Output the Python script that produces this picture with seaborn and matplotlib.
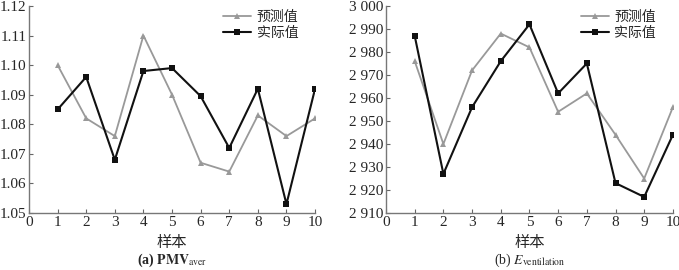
import numpy as np
import pandas as pd
import matplotlib
matplotlib.use("Agg")
import matplotlib.pyplot as plt
import seaborn as sns

# Sample indices
samples = [1, 2, 3, 4, 5, 6, 7, 8, 9, 10]

# (a) average PMV
pmv_pred = [1.100, 1.082, 1.076, 1.110, 1.090, 1.067, 1.064, 1.083, 1.076, 1.082]
pmv_actual = [1.085, 1.096, 1.068, 1.098, 1.099, 1.0895, 1.072, 1.092, 1.053, 1.092]

# (b) ventilation energy
vent_pred = [2976, 2940, 2972, 2988, 2982, 2954, 2962, 2944, 2925, 2956]
vent_actual = [2987, 2927, 2956, 2976, 2992, 2962, 2975, 2923, 2917, 2944]

series_names = ["预测值", "实际值"]
pmv_ticks = [1.05, 1.06, 1.07, 1.08, 1.09, 1.10, 1.11, 1.12]
vent_ticks = [2910, 2920, 2930, 2940, 2950, 2960, 2970, 2980, 2990, 3000]
x_ticks = [0, 1, 2, 3, 4, 5, 6, 7, 8, 9, 10]

sns.set_theme(style="ticks")
plt.rcParams["font.family"] = ["Liberation Serif", "Noto Sans CJK SC"]
plt.rcParams["mathtext.fontset"] = "stix"

fig = plt.figure(figsize=(6.79, 2.70), dpi=100)
ax1 = fig.add_axes([0.0427, 0.211, 0.4213, 0.767])
ax2 = fig.add_axes([0.5685, 0.211, 0.4225, 0.767])

cjk = ["Noto Sans CJK SC", "Liberation Serif"]


def draw(ax, pred, actual, yticks, ylabels, caption, bold):
    df = pd.DataFrame({
        "样本": samples * 2,
        "value": list(pred) + list(actual),
        "series": [series_names[0]] * len(samples) + [series_names[1]] * len(samples),
    })
    sns.lineplot(data=df[df.series == series_names[0]], x="样本", y="value", ax=ax,
                 color="#999999", marker="^", markersize=5, markeredgewidth=0,
                 linewidth=1.3, label=series_names[0])
    sns.lineplot(data=df[df.series == series_names[1]], x="样本", y="value", ax=ax,
                 color="#111111", marker="s", markersize=4.5, markeredgewidth=0,
                 linewidth=1.5, label=series_names[1])
    ax.set_xlim(0, 10)
    ax.set_ylim(yticks[0], yticks[-1])
    ax.set_xticks(x_ticks)
    ax.set_xticklabels([str(t) for t in x_ticks], fontsize=11)
    ax.set_yticks(yticks)
    ax.set_yticklabels(ylabels, fontsize=11)
    ax.tick_params(direction="in", length=3, width=0.8, color="#666666", pad=2)
    for s in ["top", "right"]:
        ax.spines[s].set_visible(False)
    for s in ["left", "bottom"]:
        ax.spines[s].set_color("#777777")
        ax.spines[s].set_linewidth(1.0)
    ax.set_xlabel("样本", fontsize=11, family=cjk, labelpad=4)
    ax.set_ylabel("")
    ax.text(0.5, -0.185, caption, transform=ax.transAxes, ha="center", va="top",
            fontsize=10, fontweight="bold" if bold else "normal")
    ax.legend(loc="upper right", frameon=False, prop={"family": cjk, "size": 10},
              handlelength=2.0, handletextpad=0.4, labelspacing=0.15,
              borderaxespad=0.2, bbox_to_anchor=(0.97, 1.02))


draw(ax1, pmv_pred, pmv_actual, pmv_ticks, [f"{t:.2f}" for t in pmv_ticks],
     r"(a) $\mathbf{PMV}_{\mathrm{aver}}$", True)
draw(ax2, vent_pred, vent_actual, vent_ticks,
     [f"{t // 1000} {t % 1000:03d}" for t in vent_ticks],
     r"(b) $E_{\mathrm{ventilation}}$", False)

fig.savefig("out.png", dpi=100)
